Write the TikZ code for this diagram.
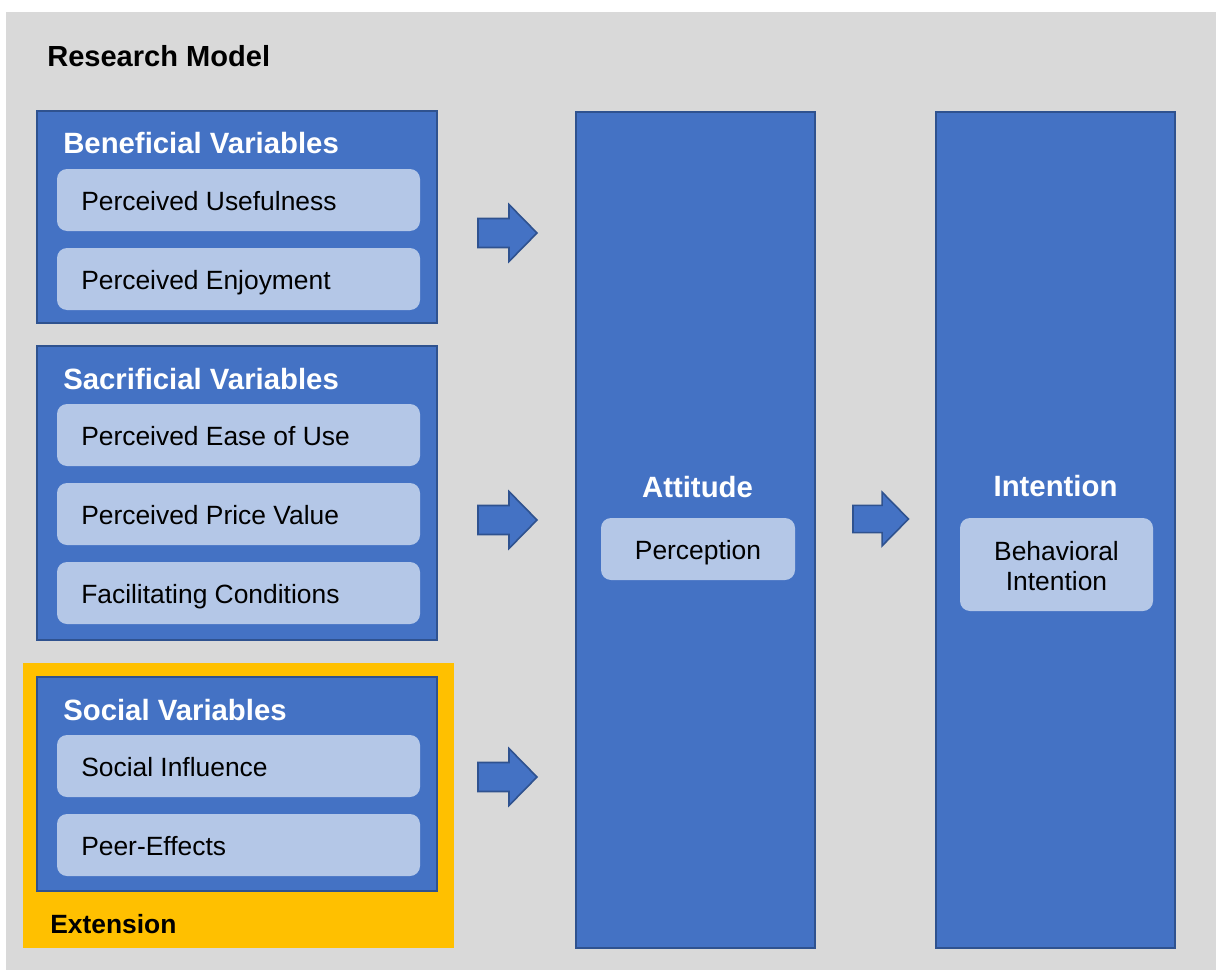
\documentclass[tikz,border=0pt]{standalone}
\usepackage{fontspec}
\setmainfont{Liberation Sans}
\usetikzlibrary{fit}
\definecolor{bg}{HTML}{D9D9D9}
\definecolor{blu}{HTML}{4472C4}
\definecolor{bluedge}{HTML}{2F528F}
\definecolor{lite}{HTML}{B4C7E7}
\definecolor{ylw}{HTML}{FFC000}
\begin{document}
\begin{tikzpicture}[x=0.75pt,y=-0.75pt,
  bluebox/.style={draw=bluedge, fill=blu, line width=1.5pt, inner sep=0pt},
  litebox/.style={fill=lite, rounded corners=7.5pt, inner sep=0pt},
  extbox/.style={fill=ylw, inner sep=0pt},
  title/.style={font=\fontsize{22}{26}\selectfont\bfseries, text=white, inner sep=0pt},
  heading/.style={font=\fontsize{21.8}{25}\selectfont\bfseries, text=black, inner sep=0pt},
  exttitle/.style={font=\fontsize{19.8}{24}\selectfont\bfseries, text=black, inner sep=0pt},
  item/.style={font=\fontsize{19.8}{22.5}\selectfont, text=black, inner sep=0pt},
  blockarrow/.style={draw=bluedge, fill=blu, line width=1.2pt, line join=miter},
  blockarr/.pic={\draw[blockarrow] (0,-14.5) -- (31,-14.5) -- (31,-28.5) -- (59,0) -- (31,28.5) -- (31,14.5) -- (0,14.5) -- cycle;}
]
\useasboundingbox (0,0) rectangle (1216,970);
\fill[bg] (6,12) rectangle (1216,970);

\node[heading, anchor=base west] (rm) at (47,67) {Research Model};

% Beneficial
\node[bluebox, fit={(37,111) (437,323)}] (ben) {};
\node[title, anchor=base west] (bent) at (63,154) {Beneficial Variables};
\node[litebox, fit={(57,169) (420,231)}] (pu) {};
\node[item, anchor=base west] (put) at (81,210) {Perceived Usefulness};
\node[litebox, fit={(57,248) (420,310)}] (pe) {};
\node[item, anchor=base west] (pet) at (81,289) {Perceived Enjoyment};

% Sacrificial
\node[bluebox, fit={(37,346) (437,640)}] (sac) {};
\node[title, anchor=base west] (sact) at (63,389) {Sacrificial Variables};
\node[litebox, fit={(57,404) (420,466)}] (peu) {};
\node[item, anchor=base west] (peut) at (81,445) {Perceived Ease of Use};
\node[litebox, fit={(57,483) (420,545)}] (ppv) {};
\node[item, anchor=base west] (ppvt) at (81,524) {Perceived Price Value};
\node[litebox, fit={(57,562) (420,624)}] (fc) {};
\node[item, anchor=base west] (fct) at (81,603) {Facilitating Conditions};

% Extension / Social
\node[extbox, fit={(23,663) (454,948)}] (ext) {};
\node[exttitle, anchor=base west] (extt) at (50,933) {Extension};
\node[bluebox, fit={(37,677) (437,891)}] (soc) {};
\node[title, anchor=base west] (soct) at (63,720) {Social Variables};
\node[litebox, fit={(57,735) (420,797)}] (si) {};
\node[item, anchor=base west] (sit) at (81,776) {Social Influence};
\node[litebox, fit={(57,814) (420,876)}] (pfx) {};
\node[item, anchor=base west] (pfxt) at (81,855) {Peer-Effects};

% Attitude
\node[bluebox, fit={(576,112) (815,948)}] (att) {};
\node[title, anchor=base] (attt) at (697.5,497) {Attitude};
\node[litebox, fit={(601,518) (795,580)}] (per) {};
\node[item, anchor=base] (pert) at (698,559) {Perception};

% Intention
\node[bluebox, fit={(936,112) (1175,948)}] (int) {};
\node[title, anchor=base] (intt) at (1055.5,496) {Intention};
\node[litebox, fit={(960,518) (1153,611)}] (bi) {};
\node[item, align=center, anchor=center] (bit) at (1056.5,566) {Behavioral\\Intention};

% arrows
\pic (a1) at (478,233) {blockarr};
\pic (a2) at (478,520) {blockarr};
\pic (a3) at (478,777) {blockarr};
\pic[scale=0.94] (a4) at (853,519) {blockarr};
\end{tikzpicture}
\end{document}
